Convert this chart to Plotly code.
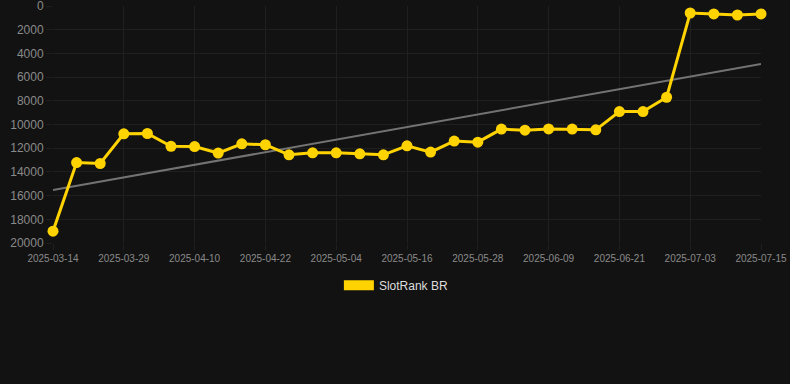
import plotly.graph_objects as go

dates = ["2025-03-14", "2025-03-19", "2025-03-24", "2025-03-29", "2025-04-02", "2025-04-06",
         "2025-04-10", "2025-04-14", "2025-04-18", "2025-04-22", "2025-04-26", "2025-04-30",
         "2025-05-04", "2025-05-08", "2025-05-12", "2025-05-16", "2025-05-20", "2025-05-24",
         "2025-05-28", "2025-06-01", "2025-06-05", "2025-06-09", "2025-06-13", "2025-06-17",
         "2025-06-21", "2025-06-25", "2025-06-29", "2025-07-03", "2025-07-07", "2025-07-11",
         "2025-07-15"]
ranks = [19000, 13210, 13290, 10790, 10760, 11840, 11860, 12410, 11630, 11710,
         12560, 12390, 12390, 12470, 12560, 11800, 12330, 11400, 11490, 10390,
         10480, 10370, 10390, 10450, 8910, 8910, 7700, 590, 670, 760, 670]
trend_x = [dates[0], dates[-1]]
trend_y = [15530, 4890]
tick_labels = dates[::3]
y_ticks = list(range(0, 20001, 2000))
series_name = "SlotRank BR"

gold = "#FFD300"
bg = "#121212"
grid = "#1f1f1f"

fig = go.Figure()
fig.add_trace(go.Scatter(x=trend_x, y=trend_y, mode="lines",
                         line=dict(color="#737373", width=2), showlegend=False,
                         hoverinfo="skip", cliponaxis=False))
fig.add_trace(go.Scatter(x=dates, y=ranks, mode="lines+markers", name=series_name,
                         line=dict(color=gold, width=3),
                         marker=dict(color=gold, size=11),
                         showlegend=False, cliponaxis=False))
fig.add_trace(go.Scatter(x=[None], y=[None], mode="lines", name=series_name,
                         line=dict(color=gold, width=12), showlegend=True))

fig.update_layout(
    width=790, height=384,
    paper_bgcolor=bg, plot_bgcolor=bg,
    margin=dict(l=53, r=29, t=6, b=141),
    font=dict(family="Liberation Sans, Arial, sans-serif", color="#8a8a8a"),
    showlegend=True,
    legend=dict(orientation="h", x=0.485, xanchor="center", y=-0.178, yanchor="middle",
                font=dict(size=12, color="#dddddd"), bgcolor="rgba(0,0,0,0)"),
)
fig.update_xaxes(type="category", categoryorder="array", categoryarray=dates,
                 range=[0, len(dates) - 1], automargin=False,
                 tickmode="array", tickvals=tick_labels, ticktext=tick_labels,
                 tickangle=0, tickfont=dict(size=10, color="#8a8a8a"),
                 showgrid=True, gridcolor=grid, gridwidth=1,
                 ticks="outside", ticklen=6, tickcolor=grid,
                 zeroline=False, showline=False)
fig.update_yaxes(range=[20000, 0], tickmode="array", tickvals=y_ticks, automargin=False,
                 ticktext=[str(v) for v in y_ticks],
                 tickfont=dict(size=12, color="#8a8a8a"),
                 showgrid=True, gridcolor=grid, gridwidth=1,
                 ticks="outside", ticklen=6, tickcolor=grid,
                 ticklabeloverflow="allow",
                 zeroline=False, showline=False)

fig.write_html("out.html", config={"displayModeBar": False},
               post_script="document.body.style.margin='0';document.body.style.background='#121212';")
